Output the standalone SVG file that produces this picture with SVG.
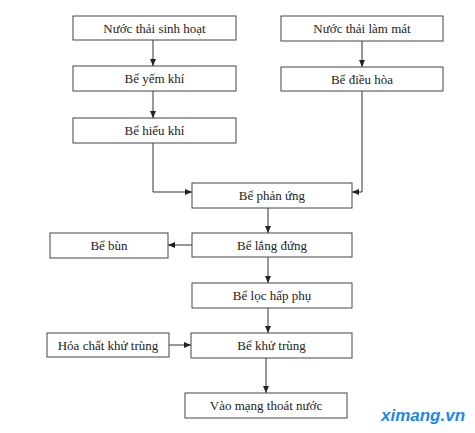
<svg xmlns="http://www.w3.org/2000/svg" width="475" height="433" viewBox="0 0 475 433">
<style>
.box{fill:#fff;stroke:#444;stroke-width:1}
.t{font-family:"Liberation Serif",serif;font-size:13px;fill:#222;text-anchor:middle}
.c{fill:none;stroke:#333;stroke-width:1}
</style>
<defs>
<marker id="ah" markerWidth="7" markerHeight="6" refX="7" refY="3" orient="auto" markerUnits="userSpaceOnUse">
<path d="M0,0 L7,3 L0,6 Z" fill="#222"/>
</marker>
</defs>
<rect width="475" height="433" fill="#fff"/>
<g id="connectors">
<path class="c" d="M153,40 V66" marker-end="url(#ah)"/>
<path class="c" d="M153,91 V118" marker-end="url(#ah)"/>
<path class="c" d="M153,143 V192 H192" marker-end="url(#ah)"/>
<path class="c" d="M362,41 V67" marker-end="url(#ah)"/>
<path class="c" d="M362,91 V192 H352" marker-end="url(#ah)"/>
<path class="c" d="M268,208 V233" marker-end="url(#ah)"/>
<path class="c" d="M192,245 H168" marker-end="url(#ah)"/>
<path class="c" d="M268,257 V283" marker-end="url(#ah)"/>
<path class="c" d="M268,308 V333" marker-end="url(#ah)"/>
<path class="c" d="M169,345 H191" marker-end="url(#ah)"/>
<path class="c" d="M266,358 V393" marker-end="url(#ah)"/>
</g>
<g id="n1"><rect class="box" x="73" y="16" width="163" height="24"/><text class="t" x="154.5" y="32.5">Nước thải sinh hoạt</text></g>
<g id="n2"><rect class="box" x="73" y="66" width="163" height="25"/><text class="t" x="154.5" y="83">Bể yếm khí</text></g>
<g id="n3"><rect class="box" x="73" y="118" width="163" height="25"/><text class="t" x="154.5" y="135">Bể hiếu khí</text></g>
<g id="n4"><rect class="box" x="281" y="16" width="162" height="25"/><text class="t" x="362" y="33">Nước thải làm mát</text></g>
<g id="n5"><rect class="box" x="281" y="67" width="162" height="24"/><text class="t" x="362" y="83.5">Bể điều hòa</text></g>
<g id="n6"><rect class="box" x="192" y="183" width="160" height="25"/><text class="t" x="272" y="200">Bể phản ứng</text></g>
<g id="n7"><rect class="box" x="192" y="233" width="160" height="24"/><text class="t" x="272" y="249.5">Bể lắng đứng</text></g>
<g id="n8"><rect class="box" x="50" y="233" width="118" height="25"/><text class="t" x="109" y="250">Bể bùn</text></g>
<g id="n9"><rect class="box" x="192" y="283" width="160" height="25"/><text class="t" x="272" y="300">Bể lọc hấp phụ</text></g>
<g id="n10"><rect class="box" x="47" y="333" width="122" height="24"/><text class="t" x="108" y="349.5">Hóa chất khử trùng</text></g>
<g id="n11"><rect class="box" x="191" y="333" width="161" height="25"/><text class="t" x="271.5" y="350">Bể khử trùng</text></g>
<g id="n12"><rect class="box" x="185" y="393" width="162" height="25"/><text class="t" x="266" y="410">Vào mạng thoát nước</text></g>
<text x="423" y="421" style="font-family:'Liberation Sans',sans-serif;font-size:17px;font-weight:bold;font-style:italic;fill:#1e88e5;text-anchor:middle">ximang.vn</text>
</svg>
